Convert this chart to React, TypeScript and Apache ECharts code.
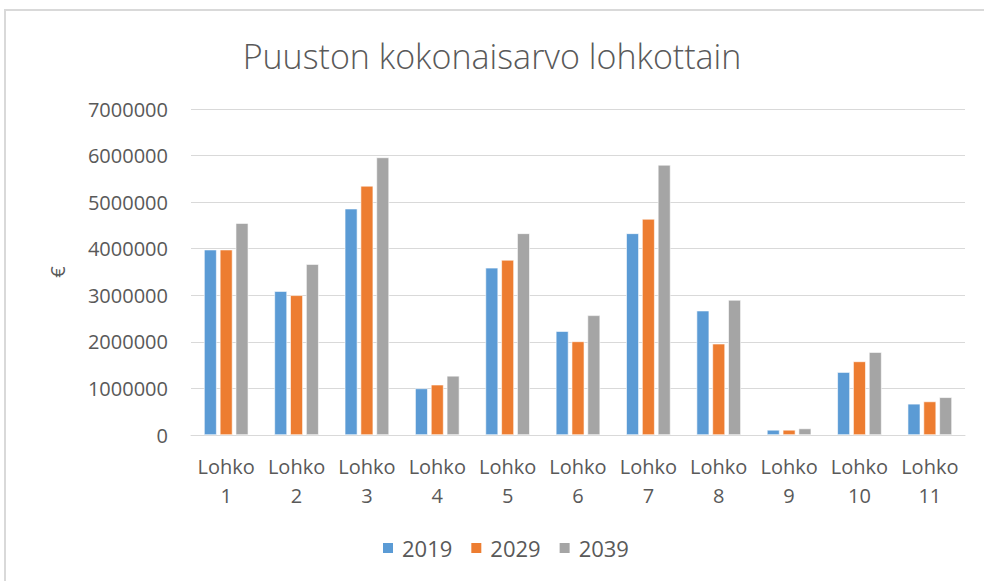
import React, { useEffect, useRef } from "react";
import * as echarts from "echarts";

const categories = ["Lohko\n1", "Lohko\n2", "Lohko\n3", "Lohko\n4", "Lohko\n5", "Lohko\n6", "Lohko\n7", "Lohko\n8", "Lohko\n9", "Lohko\n10", "Lohko\n11"];
const seriesNames = ["2019", "2029", "2039"];
const values2019 = [3980000, 3090000, 4860000, 1000000, 3590000, 2230000, 4330000, 2670000, 110000, 1350000, 670000];
const values2029 = [3980000, 3000000, 5350000, 1080000, 3760000, 2010000, 4640000, 1960000, 110000, 1580000, 720000];
const values2039 = [4550000, 3670000, 5960000, 1270000, 4330000, 2570000, 5800000, 2900000, 140000, 1780000, 810000];
const colors = ["#5B9BD5", "#ED7D31", "#A5A5A5"];

export default function App() {
  const ref = useRef<HTMLDivElement>(null);
  useEffect(() => {
    if (!ref.current) return;
    const chart = echarts.init(ref.current, null, { renderer: "svg" });
    const font = "'Open Sans', 'Noto Sans', sans-serif";
    const data = [values2019, values2029, values2039];
    chart.setOption({
      animation: false,
      backgroundColor: "#ffffff",
      textStyle: { fontFamily: font },
      title: {
        text: "Puuston kokonaisarvo lohkottain",
        left: "center",
        top: 34,
        textStyle: { fontFamily: font, fontSize: 34, fontWeight: 300, color: "#595959" },
      },
      legend: {
        bottom: 17,
        left: 376,
        itemWidth: 12,
        itemHeight: 12,
        itemGap: 17,
        icon: "rect",
        textStyle: { fontFamily: font, fontSize: 22, color: "#595959", padding: [0, 0, 0, 3] },
        data: seriesNames,
      },
      grid: { left: 191, right: 19, top: 109, bottom: 146, containLabel: false },
      xAxis: {
        type: "category",
        data: categories,
        axisLine: { show: true, lineStyle: { color: "#d9d9d9", width: 1 } },
        axisTick: { show: false },
        axisLabel: { color: "#595959", fontFamily: font, fontSize: 20, lineHeight: 29, margin: 17, interval: 0 },
      },
      yAxis: {
        type: "value",
        min: 0,
        max: 7000000,
        interval: 1000000,
        name: "€",
        nameLocation: "middle",
        nameGap: 124,
        nameRotate: 90,
        nameTextStyle: { color: "#595959", fontFamily: font, fontSize: 20 },
        axisLine: { show: false },
        axisTick: { show: false },
        axisLabel: { color: "#595959", fontFamily: font, fontSize: 20, margin: 23, formatter: (v: number) => String(v) },
        splitLine: { lineStyle: { color: "#d9d9d9", width: 1 } },
      },
      series: seriesNames.map((name, i) => ({
        name,
        type: "bar",
        data: data[i],
        barGap: "25%",
        barCategoryGap: "37%",
        itemStyle: { color: colors[i], borderColor: "#ffffff", borderWidth: 0.6 },
      })),
    });
    return () => chart.dispose();
  }, []);
  return (
    <div style={{ position: "fixed", left: 0, top: 0, width: 984, height: 581, background: "#fff" }}>
      <div ref={ref} style={{ position: "absolute", left: 0, top: 0, width: 984, height: 581 }} />
      <div style={{ position: "absolute", left: 4, top: 9, width: 980, height: 2, background: "#d9d9d9" }} />
      <div style={{ position: "absolute", left: 4, top: 9, width: 2, height: 572, background: "#d9d9d9" }} />
    </div>
  );
}
